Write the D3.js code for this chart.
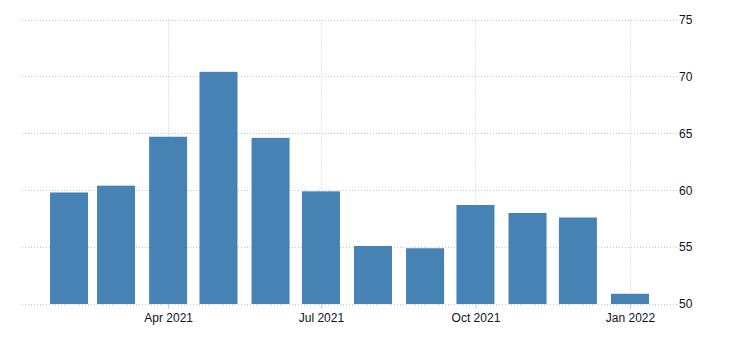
<!DOCTYPE html>
<html lang="en">
<head>
<meta charset="utf-8">
<title>Monthly bars</title>
<script src="https://d3js.org/d3.v7.min.js"></script>
<style>
  body { margin: 0; background: #fff; }
  text { font-family: "Liberation Sans", Arial, sans-serif; font-size: 12px; fill: #111122; }
</style>
</head>
<body>
<script>
// data (one bar per month, dated on the 1st)
var months = ["2021-02","2021-03","2021-04","2021-05","2021-06","2021-07",
              "2021-08","2021-09","2021-10","2021-11","2021-12","2022-01"];
var values = [59.8, 60.4, 64.7, 70.4, 64.6, 59.9, 55.1, 54.9, 58.7, 58.0, 57.6, 50.9];
var yTicks = [50, 55, 60, 65, 70, 75];
var xTicks = ["2021-04","2021-07","2021-10","2022-01"];

var width = 730, height = 345;
var plotLeft = 22, plotRight = 677, plotTop = 19.5, plotBottom = 304;
var barW = 38;

var parse = d3.timeParse("%Y-%m");
var data = months.map(function(m, i){ return {date: parse(m), value: values[i]}; });

var svg = d3.select("body").append("svg")
    .attr("width", width)
    .attr("height", height);

var x = d3.scaleTime()
    .domain([new Date(2021, 0, 4), new Date(2022, 0, 29)])
    .range([plotLeft, plotRight]);

var y = d3.scaleLinear()
    .domain([50, 75])
    .range([plotBottom, plotTop]);

// horizontal grid
svg.append("g").selectAll("line")
    .data(yTicks)
    .enter().append("line")
    .attr("x1", plotLeft).attr("x2", plotRight)
    .attr("y1", function(d){ return Math.round(y(d)) + 0.5; })
    .attr("y2", function(d){ return Math.round(y(d)) + 0.5; })
    .attr("stroke", "#c8c8c8")
    .attr("stroke-dasharray", "1,2");

// vertical grid at the x ticks
var xTickDates = xTicks.map(parse);
svg.append("g").selectAll("line")
    .data(xTickDates)
    .enter().append("line")
    .attr("x1", function(d){ return Math.round(x(d)) + 0.5; })
    .attr("x2", function(d){ return Math.round(x(d)) + 0.5; })
    .attr("y1", plotTop).attr("y2", plotBottom)
    .attr("stroke", "#c8c8c8")
    .attr("stroke-dasharray", "1,2");

// bars
svg.append("g").selectAll("rect")
    .data(data)
    .enter().append("rect")
    .attr("x", function(d){ return x(d.date) - barW / 2; })
    .attr("y", function(d){ return y(d.value); })
    .attr("width", barW)
    .attr("height", function(d){ return y(50) - y(d.value); })
    .attr("fill", "#4682b4");

// x axis
var xAxis = svg.append("g")
    .attr("transform", "translate(0," + plotBottom + ")")
    .call(d3.axisBottom(x).tickValues(xTickDates).tickSize(5).tickPadding(4)
        .tickFormat(d3.timeFormat("%b %Y")));
xAxis.select(".domain").remove();
xAxis.selectAll(".tick line").attr("stroke", "#c8c8c8");
xAxis.selectAll("text").attr("fill", null).attr("font-size", null).attr("font-family", null);

// y axis on the right
var yAxis = svg.append("g")
    .attr("transform", "translate(" + plotRight + ",0)")
    .call(d3.axisRight(y).tickValues(yTicks).tickSize(0).tickPadding(2));
yAxis.select(".domain").remove();
yAxis.selectAll("text").attr("fill", null).attr("font-size", null).attr("font-family", null);
</script>
</body>
</html>
